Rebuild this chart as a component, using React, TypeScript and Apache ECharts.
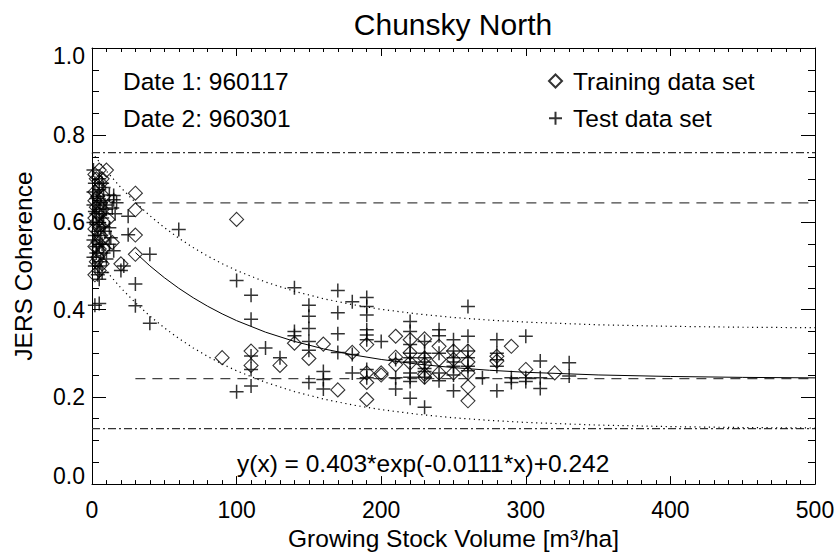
import React, { useEffect, useRef } from "react";
import * as echarts from "echarts";

// ---- data ----
const trainingData: number[][] = [
  [5, 0.72], [10, 0.72], [3, 0.70], [6, 0.69], [5, 0.68], [4, 0.66], [6, 0.645], [3, 0.635],
  [4, 0.62], [5, 0.618], [3, 0.60], [5, 0.588], [6, 0.57], [4, 0.555], [5, 0.539], [6, 0.53],
  [4, 0.52], [5, 0.49], [2, 0.71], [7, 0.70], [2, 0.67], [8, 0.66], [2, 0.65], [7, 0.63],
  [2, 0.61], [8, 0.60], [2, 0.585], [7, 0.56], [2, 0.545], [8, 0.54], [3, 0.51], [7, 0.505],
  [2, 0.48], [11, 0.607], [14, 0.554], [20, 0.505], [30, 0.667], [30, 0.629],
  [30, 0.571], [30, 0.527], [100, 0.607], [90, 0.29], [110, 0.305], [110, 0.272], [130, 0.272],
  [140, 0.323], [150, 0.288], [160, 0.321], [170, 0.216], [180, 0.302], [190, 0.32], [190, 0.255],
  [190, 0.233], [190, 0.194], [200, 0.255], [200, 0.25], [210, 0.339], [210, 0.291], [210, 0.274],
  [220, 0.331], [220, 0.301], [220, 0.278], [230, 0.333], [230, 0.289], [230, 0.252], [230, 0.245],
  [230, 0.275], [240, 0.316], [240, 0.286], [240, 0.255], [250, 0.305], [250, 0.286], [250, 0.255],
  [260, 0.305], [260, 0.28], [260, 0.255], [260, 0.223], [260, 0.191], [280, 0.293], [280, 0.282],
  [290, 0.316], [300, 0.263], [320, 0.255],
];

const testData: number[][] = [
  [2, 0.41], [5, 0.414], [4, 0.48], [5, 0.50], [3, 0.53], [5, 0.55], [6, 0.57], [4, 0.58],
  [5, 0.60], [7, 0.61], [3, 0.62], [5, 0.63], [6, 0.645], [4, 0.66], [5, 0.675], [7, 0.69],
  [5, 0.70], [8, 0.65], [8, 0.62], [9, 0.58], [1, 0.72], [2, 0.69], [8, 0.68], [1, 0.67],
  [3, 0.655], [9, 0.64], [1, 0.64], [2, 0.625], [10, 0.63], [1, 0.60], [3, 0.595], [8, 0.59],
  [2, 0.57], [7, 0.55], [1, 0.56], [3, 0.545], [8, 0.53], [1, 0.52], [6, 0.51], [2, 0.50],
  [7, 0.485], [5, 0.47], [10, 0.516], [12, 0.55], [13, 0.565], [12, 0.588],
  [14, 0.633], [15, 0.652], [12, 0.663], [15, 0.662], [17, 0.645], [16, 0.62], [15, 0.535],
  [20, 0.49], [22, 0.50], [25, 0.572],
  [25, 0.614], [30, 0.459], [30, 0.409], [40, 0.527], [40, 0.369], [60, 0.584], [100, 0.467],
  [100, 0.212], [110, 0.433], [110, 0.378], [110, 0.294], [110, 0.263], [110, 0.225], [120, 0.312],
  [130, 0.29], [140, 0.45], [140, 0.35], [140, 0.34], [150, 0.41], [150, 0.385], [150, 0.357],
  [150, 0.327], [150, 0.307], [150, 0.233], [160, 0.258], [160, 0.24], [160, 0.218], [170, 0.444],
  [170, 0.393], [170, 0.345], [170, 0.302], [180, 0.418], [180, 0.297], [180, 0.255], [190, 0.428],
  [190, 0.407], [190, 0.388], [190, 0.354], [190, 0.342], [190, 0.331], [190, 0.263], [190, 0.244],
  [200, 0.327], [210, 0.286], [210, 0.244], [210, 0.218], [220, 0.373], [220, 0.35], [220, 0.32],
  [220, 0.30], [220, 0.29], [220, 0.28], [220, 0.255], [220, 0.245], [220, 0.235], [220, 0.197],
  [230, 0.327], [230, 0.30], [230, 0.29], [230, 0.28], [230, 0.265], [230, 0.258], [230, 0.245],
  [230, 0.176], [240, 0.354], [240, 0.34], [240, 0.30], [240, 0.255], [240, 0.237], [250, 0.331],
  [250, 0.305], [250, 0.29], [250, 0.28], [250, 0.27], [250, 0.25], [250, 0.214], [260, 0.407],
  [260, 0.339], [260, 0.305], [260, 0.29], [260, 0.27], [260, 0.26], [270, 0.244], [280, 0.331],
  [280, 0.30], [280, 0.285], [280, 0.27], [280, 0.214], [290, 0.244], [290, 0.233], [300, 0.339],
  [300, 0.244], [300, 0.235], [310, 0.282], [310, 0.244], [310, 0.219], [330, 0.278], [330, 0.248],
];

const fitX = [30, 40, 50, 60, 70, 80, 90, 100, 120, 140, 160, 180, 200, 225, 250, 275, 300, 350, 400, 450, 500];
const fitY = [0.531, 0.5005, 0.4734, 0.4491, 0.4273, 0.4078, 0.3904, 0.3748, 0.3484, 0.3272, 0.3102, 0.2966,
  0.2858, 0.2752, 0.2671, 0.261, 0.2564, 0.2503, 0.2468, 0.2447, 0.2436];

const bandX = [0, 10, 20, 30, 40, 50, 60, 70, 80, 90, 100, 120, 140, 160, 180, 200, 225, 250, 275, 300, 350, 400, 450, 500];
const upperY = [0.76, 0.7177, 0.6798, 0.646, 0.6155, 0.5884, 0.5641, 0.5423, 0.5228, 0.5054, 0.4898, 0.4634,
  0.4422, 0.4252, 0.4116, 0.4008, 0.3902, 0.3821, 0.376, 0.3714, 0.3653, 0.3618, 0.3597, 0.3586];
const lowerY = [0.53, 0.4877, 0.4498, 0.416, 0.3855, 0.3584, 0.3341, 0.3123, 0.2928, 0.2754, 0.2598, 0.2334,
  0.2122, 0.1952, 0.1816, 0.1708, 0.1602, 0.1521, 0.146, 0.1414, 0.1353, 0.1318, 0.1297, 0.1286];

const dashedLevels = [0.645, 0.242];
const dashedStartX = 30;
const dashDotLevels = [0.76, 0.127];

const xTicks = [0, 100, 200, 300, 400, 500];
const yTicks = [0, 0.2, 0.4, 0.6, 0.8, 1.0];

const titleText = "Chunsky North";
const date1 = "Date 1: 960117";
const date2 = "Date 2: 960301";
const equation = "y(x) = 0.403*exp(-0.0111*x)+0.242";

const FONT = "'Liberation Sans', Arial, Helvetica, sans-serif";
const FS = 24.5;
const TICK_FS = 23;

export default function App() {
  const ref = useRef<HTMLDivElement>(null);
  useEffect(() => {
    if (!ref.current) return;
    const chart = echarts.init(ref.current, undefined, { renderer: "svg" });
    const zip = (xs: number[], ys: number[]) => xs.map((x, i) => [x, ys[i]]);
    const axisCommon = {
      axisLine: { show: true, onZero: false, lineStyle: { color: "#000", width: 1 } },
      splitLine: { show: false },
    };
    const xAxisBase = {
      type: "value",
      min: xTicks[0],
      max: xTicks[xTicks.length - 1],
      interval: xTicks[1] - xTicks[0],
      ...axisCommon,
      axisTick: { show: true, inside: true, length: 8, lineStyle: { color: "#000" } },
      minorTick: { show: true, splitNumber: 10, length: 4, lineStyle: { color: "#000" } },
    };
    const yAxisBase = {
      type: "value",
      min: yTicks[0],
      max: yTicks[yTicks.length - 1],
      interval: yTicks[1] - yTicks[0],
      ...axisCommon,
      axisTick: { show: true, inside: true, length: 14, lineStyle: { color: "#000" } },
      minorTick: { show: true, splitNumber: 4, length: 7, lineStyle: { color: "#000" } },
    };
    const lineSeries = (data: number[][], type: any, color = "#000", width = 1) => ({
      type: "line",
      data,
      showSymbol: false,
      symbol: "none",
      silent: true,
      lineStyle: { color, width, type },
      z: 1,
    });
    chart.setOption({
      animation: false,
      backgroundColor: "#fff",
      textStyle: { fontFamily: FONT, color: "#000" },
      title: {
        text: titleText,
        left: 453,
        textAlign: "center",
        top: 9,
        padding: 0,
        textStyle: { fontFamily: FONT, fontSize: 30, fontWeight: "normal", color: "#000" },
      },
      grid: { left: 92, right: 24, top: 48, bottom: 66, containLabel: false },
      legend: {
        orient: "vertical",
        left: 548,
        top: 68.5,
        itemWidth: 13,
        itemHeight: 13,
        itemGap: 12.3,
        padding: 0,
        selectedMode: false,
        data: ["Training data set", "Test data set"],
        textStyle: { fontFamily: FONT, fontSize: FS, color: "#000", lineHeight: 25, padding: [0, 0, 0, 6] },
      },
      xAxis: [
        {
          ...xAxisBase,
          position: "bottom",
          name: "Growing Stock Volume [m³/ha]",
          nameLocation: "middle",
          nameGap: 37,
          nameTextStyle: { fontFamily: FONT, fontSize: FS, color: "#000" },
          axisLabel: { show: true, fontFamily: FONT, fontSize: TICK_FS, color: "#000", margin: 14 },
        },
        { ...xAxisBase, position: "top", axisLabel: { show: false } },
      ],
      yAxis: [
        {
          ...yAxisBase,
          position: "left",
          name: "JERS Coherence",
          nameLocation: "middle",
          nameGap: 56,
          nameRotate: 90,
          nameTextStyle: { fontFamily: FONT, fontSize: FS, color: "#000" },
          axisLabel: {
            show: true,
            fontFamily: FONT,
            fontSize: TICK_FS,
            color: "#000",
            margin: 7,
            lineHeight: 16,
            verticalAlignMinLabel: "bottom",
            verticalAlignMaxLabel: "top",
            formatter: (v: number) => v.toFixed(1),
          },
        },
        { ...yAxisBase, position: "right", axisLabel: { show: false } },
      ],
      graphic: [
        { type: "text", left: 123, top: 68.5, style: { text: date1, fontFamily: FONT, fontSize: FS, fill: "#000" } },
        { type: "text", left: 123, top: 105.8, style: { text: date2, fontFamily: FONT, fontSize: FS, fill: "#000" } },
        { type: "text", left: 237, top: 450.5, style: { text: equation, fontFamily: FONT, fontSize: FS, fill: "#000" } },
      ],
      series: [
        ...dashDotLevels.map((v) => lineSeries([[xTicks[0], v], [xTicks[xTicks.length - 1], v]], [8, 3, 2, 3], "#333", 1.2)),
        ...dashedLevels.map((v) => lineSeries([[dashedStartX, v], [xTicks[xTicks.length - 1], v]], [10, 7], "#444", 1.3)),
        lineSeries(zip(bandX, upperY), [1.2, 3.6], "#000", 1.2),
        lineSeries(zip(bandX, lowerY), [1.2, 3.6], "#000", 1.2),
        lineSeries(zip(fitX, fitY), "solid", "#000", 1),
        {
          name: "Training data set",
          type: "scatter",
          data: trainingData,
          symbol: "diamond",
          symbolSize: 14,
          itemStyle: { color: "rgba(255,255,255,0)", borderColor: "#000", borderWidth: 1.1 },
          z: 3,
        },
        {
          name: "Test data set",
          type: "scatter",
          data: testData,
          symbol: "path://M6,0 L6,12 M0,6 L12,6",
          symbolSize: 14,
          itemStyle: { color: "rgba(255,255,255,0)", borderColor: "#000", borderWidth: 1.5 },
          z: 3,
        },
      ],
    });
    return () => chart.dispose();
  }, []);
  return <div ref={ref} style={{ width: 839, height: 556, position: "absolute", left: 0, top: 0 }} />;
}
